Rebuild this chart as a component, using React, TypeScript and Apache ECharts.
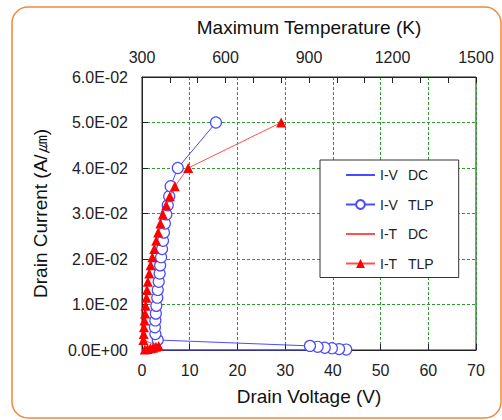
import React, { useEffect, useRef } from "react";
import * as echarts from "echarts";

// Drain voltage (V) / current (A/um) for I-V TLP
const ivTlpV = [42.8, 41.3, 39.8, 38.3, 36.8, 35.2, 3.3, 2.8, 2.7, 2.8, 2.9, 3.0, 3.2, 3.3, 3.5, 3.7, 3.8, 4.0, 4.2, 4.4, 4.6, 4.8, 5.1, 5.4, 5.7, 6.0, 7.5, 15.5];
const ivTlpI = [0.0001, 0.0002, 0.0004, 0.0005, 0.0007, 0.0009, 0.0022, 0.0035, 0.005, 0.0065, 0.008, 0.0097, 0.0115, 0.0132, 0.015, 0.0168, 0.0186, 0.0204, 0.0222, 0.024, 0.0258, 0.0278, 0.0298, 0.0318, 0.0338, 0.036, 0.04, 0.05];
// I-V DC
const ivDcV = [0, 10, 20, 30, 40, 42.8];
const ivDcI = [0, 0, 0, 0, 0, 0];
// Maximum temperature (K) / current for I-T TLP
const itTlpT = [310, 320, 330, 340, 350, 360, 305, 306, 307, 309, 311, 313, 316, 318, 321, 326, 331, 337, 344, 351, 358, 366, 375, 387, 400, 418, 466, 800];
const itTlpI = [0.0001, 0.0002, 0.0004, 0.0005, 0.0007, 0.0009, 0.0022, 0.0035, 0.005, 0.0065, 0.008, 0.0097, 0.0115, 0.0132, 0.015, 0.0168, 0.0186, 0.0204, 0.0222, 0.024, 0.0258, 0.0278, 0.0298, 0.0318, 0.0338, 0.036, 0.04, 0.05];
// I-T DC
const itDcT = [300, 330, 360];
const itDcI = [0, 0.00005, 0.0001];

const seriesNames = ["I-V DC", "I-V TLP", "I-T DC", "I-T TLP"];

const zip = (a: number[], b: number[]) => a.map((v, i) => [v, b[i]]);

const fmtSci = (v: number) => {
  if (v === 0) return "0.0E+00";
  const s = v.toExponential(1);
  const [m, e] = s.split("e");
  const n = parseInt(e, 10);
  return m + "E" + (n < 0 ? "-" : "+") + String(Math.abs(n)).padStart(2, "0");
};

const FONT = "'Liberation Sans', Arial, sans-serif";
const BLUE = "#4a4aff";
const RED = "#ff0000";
const GRID_GREEN = "#2f9a2f";

export default function App() {
  const ref = useRef<HTMLDivElement>(null);
  useEffect(() => {
    if (!ref.current) return;
    const chart = echarts.init(ref.current, undefined, { renderer: "svg" });
    const splitLine = { show: true, lineStyle: { color: GRID_GREEN, type: [3, 2], width: 1 } };
    const axisLineStyle = { color: "#222", width: 1 };
    chart.setOption({
      animation: false,
      backgroundColor: "#fff",
      textStyle: { fontFamily: FONT },
      graphic: [
        {
          type: "rect",
          shape: { x: 12, y: 7, width: 489, height: 411, r: 16 },
          style: { fill: "none", stroke: "#f4883a", lineWidth: 1.5 },
          z: -10,
          silent: true,
        },
      ],
      grid: { left: 142, right: 26, top: 77, bottom: 70, show: true, borderColor: "#222", borderWidth: 1, backgroundColor: "transparent" },
      legend: {
        orient: "vertical",
        left: 320,
        top: 160,
        backgroundColor: "#fff",
        borderColor: "#333",
        borderWidth: 1,
        borderRadius: 0,
        padding: [8, 25, 7, 25],
        itemWidth: 29,
        itemHeight: 11,
        itemGap: 15.5,
        data: seriesNames.map((n) =>
          n.endsWith("DC") ? { name: n, itemStyle: { opacity: 0 } } : { name: n }
        ),
        formatter: (name: string) => {
          const [a, b] = name.split(" ");
          return `{a|${a}}{b|${b}}`;
        },
        textStyle: {
          fontFamily: FONT,
          fontSize: 14,
          color: "#222",
          rich: { a: { width: 28, fontSize: 14, fontFamily: FONT, color: "#222" }, b: { fontSize: 14, fontFamily: FONT, color: "#222" } },
        },
      },
      xAxis: [
        {
          type: "value",
          position: "bottom",
          min: 0,
          max: 70,
          interval: 10,
          name: "Drain Voltage (V)",
          nameLocation: "middle",
          nameGap: 37,
          nameTextStyle: { fontSize: 19, color: "#111", fontFamily: FONT },
          axisLine: { show: true, lineStyle: axisLineStyle },
          axisTick: { show: true, inside: true, length: 6, lineStyle: axisLineStyle },
          axisLabel: { fontSize: 16, color: "#222", margin: 12, fontFamily: FONT },
          splitLine,
        },
        {
          type: "value",
          position: "top",
          min: 300,
          max: 1500,
          interval: 100,
          name: "Maximum Temperature (K)",
          nameLocation: "middle",
          nameGap: 40,
          nameTextStyle: { fontSize: 19, color: "#111", fontFamily: FONT },
          axisLine: { show: true, lineStyle: axisLineStyle },
          axisTick: { show: true, inside: true, length: 6, lineStyle: axisLineStyle },
          axisLabel: {
            fontSize: 16,
            color: "#222",
            margin: 12,
            fontFamily: FONT,
            showMinLabel: true,
            showMaxLabel: true,
            formatter: (v: number) => (Math.round(v) % 300 === 0 ? String(Math.round(v)) : ""),
          },
          splitLine: { show: false },
        },
      ],
      yAxis: [
        {
          type: "value",
          min: 0,
          max: 0.06,
          interval: 0.01,
          name: "Drain Current (A/㎛)",
          nameLocation: "middle",
          nameGap: 92,
          nameTextStyle: { fontSize: 19, color: "#111", fontFamily: FONT },
          axisLine: { show: true, lineStyle: axisLineStyle },
          axisTick: { show: true, inside: true, length: 6, lineStyle: axisLineStyle },
          axisLabel: { fontSize: 16, color: "#222", margin: 14, fontFamily: FONT, formatter: fmtSci },
          splitLine,
        },
      ],
      series: [
        {
          name: seriesNames[0],
          type: "line",
          xAxisIndex: 0,
          data: zip(ivDcV, ivDcI),
          symbol: "none",
          clip: false,
          lineStyle: { color: BLUE, width: 1.2 },
          itemStyle: { color: BLUE },
          z: 3,
        },
        {
          name: seriesNames[1],
          type: "line",
          xAxisIndex: 0,
          data: zip(ivTlpV, ivTlpI),
          symbol: "circle",
          symbolSize: 11,
          showAllSymbol: true,
          clip: false,
          lineStyle: { color: BLUE, width: 1 },
          itemStyle: { color: "#fff", borderColor: BLUE, borderWidth: 1.2 },
          z: 3,
        },
        {
          name: seriesNames[2],
          type: "line",
          xAxisIndex: 1,
          data: zip(itDcT, itDcI),
          symbol: "none",
          clip: false,
          lineStyle: { color: "#ff5050", width: 1 },
          itemStyle: { color: "#ff5050" },
          z: 4,
        },
        {
          name: seriesNames[3],
          type: "line",
          xAxisIndex: 1,
          data: zip(itTlpT, itTlpI),
          symbol: "triangle",
          symbolSize: 10,
          showAllSymbol: true,
          clip: false,
          lineStyle: { color: "#ff5050", width: 1 },
          itemStyle: { color: RED, borderColor: RED, borderWidth: 0 },
          z: 4,
        },
      ],
    });
    return () => chart.dispose();
  }, []);
  return (
    <div
      ref={ref}
      style={{ position: "fixed", left: 0, top: 0, width: 502, height: 420, background: "#fff" }}
    />
  );
}
